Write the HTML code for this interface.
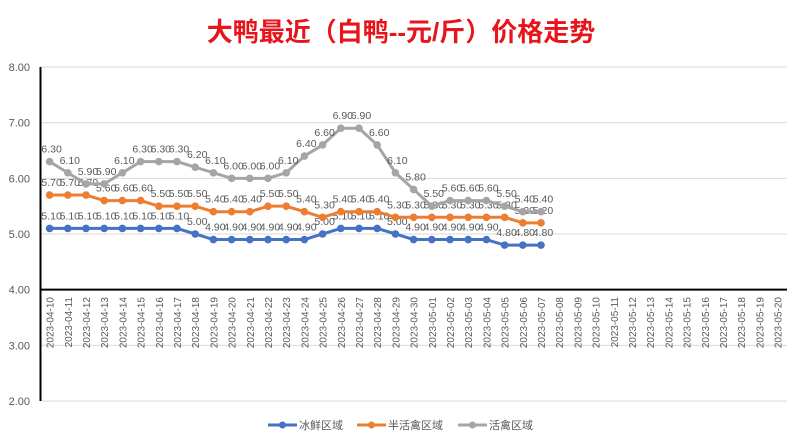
<!DOCTYPE html>
<html><head><meta charset="utf-8"><style>
html,body{margin:0;padding:0;background:#fff;}
svg{display:block;font-family:"Liberation Sans","Noto Sans CJK SC",sans-serif;}
</style></head><body>
<svg id="c" width="800" height="442" xmlns="http://www.w3.org/2000/svg">
<text x="401" y="41" text-anchor="middle" font-size="26" font-weight="bold" fill="#e8141b" font-family="Liberation Sans,Noto Sans CJK SC,sans-serif">大鸭最近（白鸭--元/斤）价格走势</text>
</svg>
<script>
const s=document.getElementById('c');const NS='http://www.w3.org/2000/svg';
function el(t,a,txt){const e=document.createElementNS(NS,t);for(const k in a)e.setAttribute(k,a[k]);if(txt!=null)e.textContent=txt;s.appendChild(e);return e;}
const X0=40.5,W=18.2,Y=v=>401-(v-2)*55.67;
for(const v of [2,3,5,6,7,8]){el('line',{x1:X0,x2:787,y1:Y(v),y2:Y(v),stroke:'#d9d9d9','stroke-width':1});}
for(const v of [2,3,4,5,6,7,8]){el('text',{x:30,y:Y(v)+4,'text-anchor':'end','font-size':11,fill:'#595959'},v.toFixed(2));}
el('line',{x1:X0,x2:X0,y1:Y(8),y2:Y(2),stroke:'#000','stroke-width':2});
el('line',{x1:X0,x2:787,y1:Y(4),y2:Y(4),stroke:'#000','stroke-width':2});
const d0=new Date(2023,3,10);
for(let i=0;i<41;i++){const d=new Date(d0.getTime()+i*86400000);
const lab='2023-'+String(d.getMonth()+1).padStart(2,'0')+'-'+String(d.getDate()).padStart(2,'0');
const x=X0+W*(i+0.5)+4;el('text',{x:x,y:297,'text-anchor':'end','font-size':10,fill:'#595959',transform:`rotate(-90 ${x} 297)`},lab);}
const blue=[5.1,5.1,5.1,5.1,5.1,5.1,5.1,5.1,5.0,4.9,4.9,4.9,4.9,4.9,4.9,5.0,5.1,5.1,5.1,5.0,4.9,4.9,4.9,4.9,4.9,4.8,4.8,4.8];
const org=[5.7,5.7,5.7,5.6,5.6,5.6,5.5,5.5,5.5,5.4,5.4,5.4,5.5,5.5,5.4,5.3,5.4,5.4,5.4,5.3,5.3,5.3,5.3,5.3,5.3,5.3,5.2,5.2];
const gray=[6.3,6.1,5.9,5.9,6.1,6.3,6.3,6.3,6.2,6.1,6.0,6.0,6.0,6.1,6.4,6.6,6.9,6.9,6.6,6.1,5.8,5.5,5.6,5.6,5.6,5.5,5.4,5.4];
function ser(data,col){const pts=data.map((v,i)=>[X0+W*(i+0.5),Y(v)]);
el('polyline',{points:pts.map(p=>p.join(',')).join(' '),fill:'none',stroke:col,'stroke-width':3,'stroke-linejoin':'round'});
pts.forEach(p=>el('circle',{cx:p[0],cy:p[1],r:3.8,fill:col}));
pts.forEach((p,i)=>el('text',{x:p[0]+2,y:p[1]-9,'text-anchor':'middle','font-size':10.5,fill:'#595959'},data[i].toFixed(2)));}
ser(blue,'#4472c4');ser(org,'#ed7d31');ser(gray,'#a5a5a5');
[[268,'#4472c4','冰鲜区域'],[357,'#ed7d31','半活禽区域'],[458,'#a5a5a5','活禽区域']].forEach(([x,c,t])=>{
el('line',{x1:x,x2:x+29,y1:425,y2:425,stroke:c,'stroke-width':3});el('circle',{cx:x+14.5,cy:425,r:3.5,fill:c});
el('text',{x:x+31,y:429,'font-size':11,fill:'#595959'},t);});
</script>
</body></html>
